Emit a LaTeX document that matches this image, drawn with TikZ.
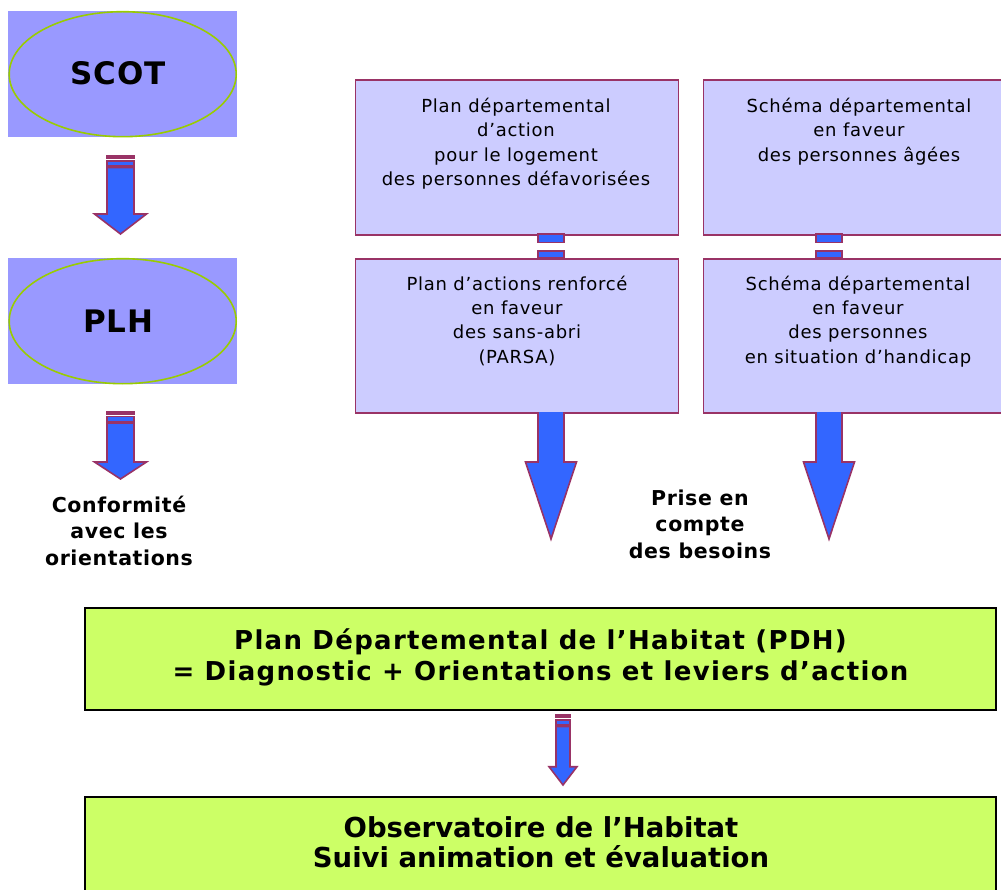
\documentclass[tikz,border=0pt]{standalone}
\usepackage{fontspec}
\setmainfont{DejaVu Sans}
\usetikzlibrary{shapes.geometric}
\definecolor{scotblue}{HTML}{9999FF}
\definecolor{ellgreen}{HTML}{99CC00}
\definecolor{lav}{HTML}{CCCCFF}
\definecolor{maroonc}{HTML}{993366}
\definecolor{arrblue}{HTML}{3366FF}
\definecolor{limec}{HTML}{CCFF66}
\newcommand\fsz[2]{\fontsize{#1}{#2}\selectfont}
\newcommand\ftl{\rule{0pt}{1em}}
% block arrow: #1 cx, #2 stripe top, #3 shaft half width, #4 head start y, #5 head half width, #6 tip y
\newcommand\blockarr[6]{%
  \draw[arrline, fill=maroonc] ({#1-#3},#2) rectangle ({#1+#3},{#2+2.5});
  \draw[arrline, fill=arrblue] ({#1-#3},{#2+5}) rectangle ({#1+#3},{#2+10});
  \draw[arrline, fill=arrblue] ({#1-#3},{#2+11.5}) -- ({#1-#3},#4) -- ({#1-#5},#4) -- (#1,#6)
     -- ({#1+#5},#4) -- ({#1+#3},#4) -- ({#1+#3},{#2+11.5}) -- cycle;}
% big arrow hanging from a box bottom: #1 cx, #2 top, #3 shaft half width, #4 head start, #5 head half width, #6 tip
\newcommand\bigarr[6]{%
  \fill[arrblue] ({#1-#3},#2) -- ({#1-#3},#4) -- ({#1-#5},#4) -- (#1,#6)
     -- ({#1+#5},#4) -- ({#1+#3},#4) -- ({#1+#3},#2) -- cycle;
  \draw[arrline] ({#1-#3},#2) -- ({#1-#3},#4) -- ({#1-#5},#4) -- (#1,#6)
     -- ({#1+#5},#4) -- ({#1+#3},#4) -- ({#1+#3},#2);}
\begin{document}
\begin{tikzpicture}[x=1pt,y=-1pt,
  arrline/.style={draw=maroonc, line width=1.6pt, line join=miter},
  ovalbox/.style={fill=scotblue, minimum width=229pt, minimum height=126pt, inner sep=0pt, anchor=north west},
  oval/.style={ellipse, draw=ellgreen, line width=1.6pt, minimum width=227pt, minimum height=125pt, inner sep=0pt},
  ovaltxt/.style={font=\bfseries\fsz{31}{31}\addfontfeature{LetterSpace=2}, anchor=base, inner sep=0pt},
  lavbox/.style={draw=maroonc, fill=lav, line width=1.9pt, inner sep=0pt, anchor=north west},
  smalltxt/.style={font=\fsz{18}{24.3}\addfontfeature{LetterSpace=4}, align=center, anchor=north, inner sep=0pt},
  boldlbl/.style={font=\bfseries\fsz{20.5}{26.5}\addfontfeature{LetterSpace=3}, align=center, anchor=north, inner sep=0pt},
  greenbox/.style={draw=black, fill=limec, line width=1.6pt, inner sep=0pt, anchor=north west},
  bigtxt/.style={font=\bfseries\fsz{26}{31}\addfontfeature{LetterSpace=5}, align=center, anchor=north, inner sep=0pt},
  obstxt/.style={font=\bfseries\fsz{27.5}{30}, align=center, anchor=north, inner sep=0pt},
  smallconn/.style={draw=maroonc, fill=arrblue, line width=1.6pt}]
\useasboundingbox (0,0) rectangle (1001,890);
\clip (0,0) rectangle (1001,890);

% SCOT and PLH
\node[ovalbox] (scot) at (8,11) {};
\node[oval] (scotoval) at (scot.center) {};
\node[ovaltxt] (scottxt) at (118,84.3) {SCOT};
\node[ovalbox] (plh) at (8,258) {};
\node[oval] (plhoval) at (plh.center) {};
\node[ovaltxt] (plhtxt) at (118.5,333) {PLH};

\blockarr{120.5}{156}{13.5}{214}{26}{234}
\blockarr{120.5}{411.5}{13.5}{462}{26}{479}

\node[boldlbl] (conf) at (119,{512-20.5}) {\ftl Conformité\\avec les\\orientations};

% departmental schemes
\node[lavbox, minimum width=323pt, minimum height=155pt] (pdalpd) at (354.5,79) {};
\node[lavbox, minimum width=314pt, minimum height=155pt] (sdpa) at (702.5,79) {};
\node[lavbox, minimum width=323pt, minimum height=154pt] (parsa) at (354.5,258) {};
\node[lavbox, minimum width=314pt, minimum height=154pt] (sdph) at (702.5,258) {};

\node[smalltxt] (t1) at (516,{112.3-18}) {\ftl Plan départemental\\d’action\\pour le logement\\des personnes défavorisées};
\node[smalltxt] (t2) at (859,{112.3-18}) {\ftl Schéma départemental\\en faveur\\des personnes âgées};
\node[smalltxt] (t3) at (517,{290-18}) {\ftl Plan d’actions renforcé\\en faveur\\des sans-abri\\(PARSA)};
\node[smalltxt] (t4) at (858,{290-18}) {\ftl Schéma départemental\\en faveur\\des personnes\\en situation d’handicap};

% small connectors between stacked boxes
\draw[smallconn] (538,234) rectangle (564,242.5);
\draw[smallconn] (538,251) rectangle (564,257.5);
\draw[smallconn] (816,234) rectangle (842,242.5);
\draw[smallconn] (816,251) rectangle (842,257.5);

\bigarr{551}{412}{13}{462}{25.5}{539}
\bigarr{829}{412}{13}{462}{25.5}{539}

\node[boldlbl] (prise) at (700,{505-20.5}) {\ftl Prise en\\compte\\des besoins};

% PDH
\fill[black!35] (86,609) rectangle (997,711);
\node[greenbox, minimum width=911pt, minimum height=102pt] (pdh) at (84,607) {};
\node[bigtxt] (pdhtxt) at (540.5,{649-26}) {\ftl Plan Départemental de l’Habitat (PDH)\\= Diagnostic + Orientations et leviers d’action};

\blockarr{563}{715}{7}{766.7}{14}{785}

% Observatoire
\node[greenbox, minimum width=911pt, minimum height=110pt] (obs) at (84,796) {};
\node[obstxt] (obstx) at (541,{837-27.5}) {\ftl Observatoire de l’Habitat\\Suivi animation et évaluation};
\end{tikzpicture}
\end{document}
